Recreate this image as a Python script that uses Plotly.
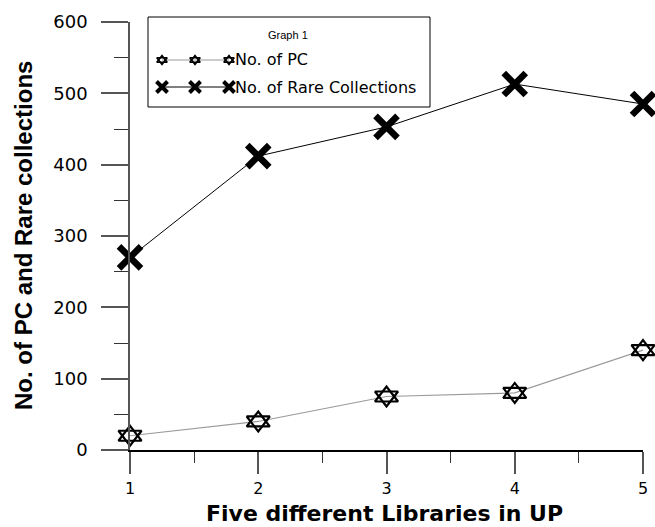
import plotly.graph_objects as go

libraries = [1, 2, 3, 4, 5]
no_of_pc = [20, 40, 75, 80, 140]
no_of_rare = [270, 412, 453, 513, 485]
y_ticks = [0, 100, 200, 300, 400, 500, 600]
x_ticks = [1, 2, 3, 4, 5]

legend_title = "Graph 1"
name_pc = "No. of PC"
name_rare = "No. of Rare Collections"
x_title = "Five different Libraries in UP"
y_title = "No. of PC and Rare collections"

W, H = 655, 527
L, R, T, B = 130, 12, 22, 77


def px(xp):
    return (xp - L) / (W - L - R)


def py(yp):
    return (H - B - yp) / (H - T - B)


fig = go.Figure()

fig.add_trace(go.Scatter(x=libraries, y=no_of_pc, mode="lines",
                         line=dict(color="#9a9a9a", width=1.2),
                         showlegend=False, hoverinfo="skip"))
fig.add_trace(go.Scatter(x=libraries, y=no_of_rare, mode="lines",
                         line=dict(color="black", width=1),
                         showlegend=False, hoverinfo="skip"))
for sym in ["triangle-up-open", "triangle-down-open"]:
    fig.add_trace(go.Scatter(x=libraries, y=no_of_pc, mode="markers",
                             marker=dict(symbol=sym, size=20, color="black",
                                         line=dict(width=2.2, color="black")),
                             cliponaxis=False, showlegend=False))
fig.add_trace(go.Scatter(x=libraries, y=no_of_rare, mode="markers",
                         marker=dict(symbol="x-thin", size=22, color="black",
                                     line=dict(width=6.5, color="black")),
                         cliponaxis=False, showlegend=False))

# ---- custom legend (pixel-scaled overlay axis for the sample glyphs) ----
leg_x = [162, 195, 229]
row1, row2 = 60, 87
fig.add_trace(go.Scatter(x=leg_x, y=[row1] * 3, mode="lines",
                         line=dict(color="#9a9a9a", width=1.2),
                         xaxis="x2", yaxis="y2", showlegend=False, hoverinfo="skip",
                         cliponaxis=False))
for sym in ["triangle-up-open", "triangle-down-open"]:
    fig.add_trace(go.Scatter(x=leg_x, y=[row1] * 3, mode="markers",
                             marker=dict(symbol=sym, size=9, color="black",
                                         line=dict(width=1.6, color="black")),
                             xaxis="x2", yaxis="y2", showlegend=False, cliponaxis=False))
fig.add_trace(go.Scatter(x=leg_x, y=[row2] * 3, mode="lines+markers",
                         line=dict(color="black", width=1),
                         marker=dict(symbol="x-thin", size=11, color="black",
                                     line=dict(width=4, color="black")),
                         xaxis="x2", yaxis="y2", showlegend=False, cliponaxis=False))

fig.add_shape(type="rect", xref="paper", yref="paper",
              x0=px(148), x1=px(430), y0=py(107), y1=py(17),
              line=dict(color="black", width=1), fillcolor="rgba(0,0,0,0)")
fig.add_annotation(xref="paper", yref="paper", x=px(288), y=py(35), text=legend_title,
                   xanchor="center", yanchor="middle",
                   showarrow=False, font=dict(family="Liberation Sans", size=11, color="black"))
fig.add_annotation(xref="paper", yref="paper", x=px(233), y=py(row1), text=name_pc,
                   xanchor="left", yanchor="middle", showarrow=False,
                   font=dict(family="DejaVu Sans", size=16, color="black"))
fig.add_annotation(xref="paper", yref="paper", x=px(233), y=py(row2), text=name_rare,
                   xanchor="left", yanchor="middle", showarrow=False,
                   font=dict(family="DejaVu Sans", size=16, color="black"))

# axis titles placed as annotations
fig.add_annotation(xref="paper", yref="paper", x=px(384), y=py(513), text="<b>" + x_title + "</b>",
                   xanchor="center", yanchor="middle", showarrow=False,
                   font=dict(family="DejaVu Sans", size=22, color="black"))
fig.add_annotation(xref="paper", yref="paper", x=px(23), y=py(236), text="<b>" + y_title + "</b>",
                   xanchor="center", yanchor="middle", showarrow=False, textangle=-90,
                   font=dict(family="Liberation Sans", size=24, color="black"))

fig.update_layout(
    width=W, height=H,
    margin=dict(l=L, r=R, t=T, b=B, autoexpand=False),
    paper_bgcolor="white", plot_bgcolor="white",
    showlegend=False,
    xaxis=dict(range=[1, 5], tickvals=x_ticks, showgrid=False, zeroline=False,
               automargin=False,
               showline=True, linecolor="black", linewidth=1.5,
               ticks="outside", ticklen=22, tickwidth=1.5, tickcolor="#555555",
               tickfont=dict(family="DejaVu Sans", size=16, color="black"),
               ticklabelstandoff=1,
               minor=dict(ticks="outside", dtick=0.5, ticklen=11, tickwidth=1.2,
                          tickcolor="#333333", showgrid=False)),
    yaxis=dict(range=[0, 600], tickvals=y_ticks, showgrid=False, zeroline=False,
               automargin=False,
               showline=True, linecolor="#555555", linewidth=1.5,
               ticks="outside", ticklen=27, tickwidth=1.5, tickcolor="#555555",
               tickfont=dict(family="DejaVu Sans", size=18, color="black"),
               ticklabelstandoff=10,
               minor=dict(ticks="outside", dtick=50, ticklen=14, tickwidth=1.2,
                          tickcolor="#333333", showgrid=False)),
    xaxis2=dict(overlaying="x", range=[L, W - R], visible=False, fixedrange=True),
    yaxis2=dict(overlaying="y", range=[H - B, T], visible=False, fixedrange=True),
)

fig.write_html("out.html")
